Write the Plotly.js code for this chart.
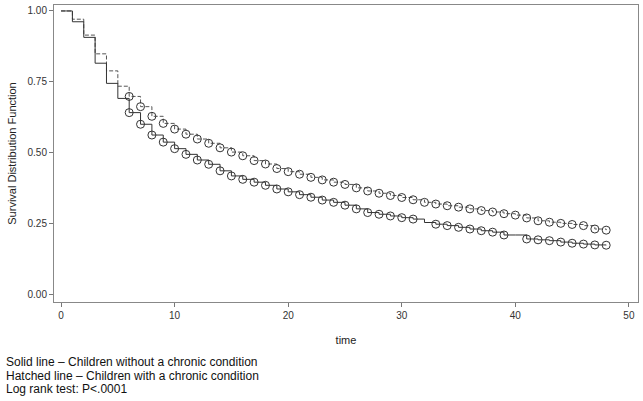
<!DOCTYPE html>
<html>
<head>
<meta charset="utf-8">
<script src="https://cdn.plot.ly/plotly-3.0.1.min.js"></script>
<style>
  html, body { margin: 0; padding: 0; background: #fff; }
  #km { width: 643px; height: 401px; }
</style>
</head>
<body>
<div id="km"></div>
<script>
// survival estimates, one value per time point
let times = [0, 1, 2, 3, 4, 5, 6, 7, 8, 9, 10, 11, 12, 13, 14, 15, 16, 17, 18, 19, 20,
  21, 22, 23, 24, 25, 26, 27, 28, 29, 30, 31, 32, 33, 34, 35, 36, 37, 38, 39, 40,
  41, 42, 43, 44, 45, 46, 47, 48];

// solid line - children without a chronic condition
let survNoChronic = [1.000, 0.962, 0.907, 0.816, 0.745, 0.692, 0.642, 0.601, 0.563, 0.538, 0.515,
  0.495, 0.475, 0.460, 0.437, 0.419, 0.407, 0.397, 0.386, 0.373, 0.363,
  0.353, 0.344, 0.334, 0.326, 0.316, 0.303, 0.290, 0.284, 0.278, 0.272,
  0.267, 0.255, 0.249, 0.244, 0.238, 0.232, 0.226, 0.221, 0.211, 0.211,
  0.197, 0.194, 0.191, 0.186, 0.182, 0.179, 0.176, 0.175];

// hatched line - children with a chronic condition
let survChronic = [1.000, 0.971, 0.915, 0.849, 0.789, 0.735, 0.699, 0.663, 0.629, 0.604, 0.584,
  0.566, 0.549, 0.534, 0.518, 0.503, 0.490, 0.473, 0.461, 0.445, 0.434,
  0.425, 0.414, 0.405, 0.397, 0.389, 0.377, 0.366, 0.358, 0.350, 0.343,
  0.335, 0.326, 0.320, 0.314, 0.309, 0.303, 0.297, 0.292, 0.286, 0.281,
  0.271, 0.261, 0.256, 0.252, 0.248, 0.244, 0.232, 0.228];

// circles start at t=6; the solid curve has no circle at these times
let firstMarkTime = 6;
let solidNoMark = [32, 40];

let xTicks = [0, 10, 20, 30, 40, 50];
let yTicks = [0, 0.25, 0.5, 0.75, 1];

let footLines = [
  "Solid line \u2013 Children without a chronic condition",
  "Hatched line \u2013 Children with a chronic condition",
  "Log rank test: P<.0001"
];

function marked(ts, ys, skip) {
  let mx = [], my = [];
  ts.forEach(function (t, i) {
    if (t >= firstMarkTime && skip.indexOf(t) < 0) { mx.push(t); my.push(ys[i]); }
  });
  return {x: mx, y: my};
}

let solidMarks = marked(times, survNoChronic, solidNoMark);
let dashMarks = marked(times, survChronic, []);

let circle = {symbol: "circle-open", size: 8, color: "#333", line: {width: 1, color: "#333"}};

let traces = [
  {x: times, y: survChronic, mode: "lines", line: {shape: "hv", color: "#555", width: 1, dash: "4px,2px"}, hoverinfo: "skip"},
  {x: times, y: survNoChronic, mode: "lines", line: {shape: "hv", color: "#333", width: 1}, hoverinfo: "skip"},
  {x: dashMarks.x, y: dashMarks.y, mode: "markers", marker: circle, hoverinfo: "skip"},
  {x: solidMarks.x, y: solidMarks.y, mode: "markers", marker: circle, hoverinfo: "skip"}
];

let axisFont = {family: "Liberation Sans, Arial, sans-serif", size: 10, color: "#333"};

// footnote lines, about 13.5px apart below the plot
let notes = footLines.map(function (txt, i) {
  return {
    xref: "paper", yref: "paper",
    x: -0.086, y: -0.202 - i * 0.0455,
    xanchor: "left", yanchor: "middle",
    showarrow: false,
    text: txt,
    font: {family: "Liberation Sans, Arial, sans-serif", size: 12, color: "#111"}
  };
});

let layout = {
  width: 643,
  height: 401,
  showlegend: false,
  paper_bgcolor: "#fff",
  plot_bgcolor: "#fff",
  margin: {l: 54, r: 5, t: 5, b: 99},
  font: axisFont,
  xaxis: {
    range: [-0.62, 50.8],
    tickvals: xTicks,
    ticktext: xTicks.map(String),
    ticks: "outside",
    ticklen: 4,
    tickcolor: "#777",
    showgrid: false,
    zeroline: false,
    showline: true,
    linecolor: "#888",
    linewidth: 1,
    mirror: true,
    tickfont: axisFont,
    title: {text: "time", font: {family: "Liberation Sans, Arial, sans-serif", size: 11, color: "#222"}, standoff: 16}
  },
  yaxis: {
    range: [-0.025, 1.021],
    tickvals: yTicks,
    ticktext: yTicks.map(function (v) { return v.toFixed(2); }),
    ticks: "outside",
    ticklen: 4,
    tickcolor: "#777",
    showgrid: false,
    zeroline: false,
    showline: true,
    linecolor: "#888",
    linewidth: 1,
    mirror: true,
    tickfont: axisFont,
    title: {text: "Survival Distribution Function", font: {family: "Liberation Sans, Arial, sans-serif", size: 11, color: "#222"}, standoff: 8}
  },
  annotations: notes
};

Plotly.newPlot("km", traces, layout, {displayModeBar: false, staticPlot: true});
</script>
</body>
</html>
